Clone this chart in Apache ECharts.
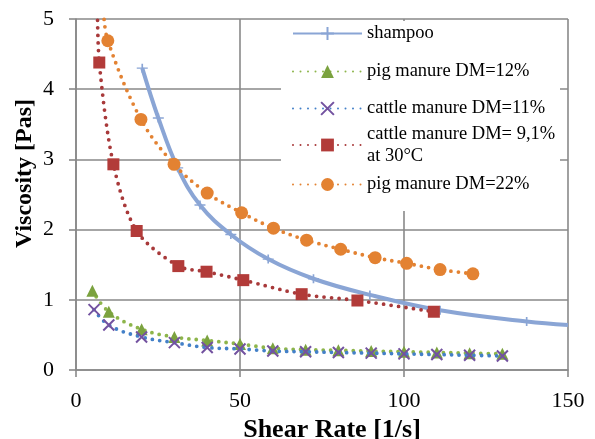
<!DOCTYPE html>
<html>
<head>
<meta charset="utf-8">
<script src="https://cdn.jsdelivr.net/npm/echarts@6/dist/echarts.min.js"></script>
<style>
  html, body { margin: 0; padding: 0; background: #fff; }
  #chart { width: 595px; height: 439px; }
</style>
</head>
<body>
<div id="chart"></div>
<script>
'use strict';

// values
var xTicks = [0, 50, 100, 150];
var yTicks = [0, 1, 2, 3, 4, 5];

var shampooX = [20.2, 25.1, 31, 37.8, 47.2, 58.6, 72.4, 89.6, 111, 137.4];
var shampooY = [4.30, 3.59, 2.88, 2.35, 1.93, 1.58, 1.30, 1.07, 0.85, 0.69];
var shampooEnd = [150, 0.64];

var pig12X = [5, 10, 20, 30, 40, 50, 60, 70, 80, 90, 100, 110, 120, 130];
var pig12Y = [1.13, 0.83, 0.58, 0.47, 0.42, 0.37, 0.31, 0.29, 0.28, 0.27, 0.26, 0.25, 0.24, 0.23];

var cattle11X = [5.5, 10, 20, 30, 40, 50, 60, 70, 80, 90, 100, 110, 120, 130];
var cattle11Y = [0.86, 0.64, 0.47, 0.39, 0.32, 0.30, 0.27, 0.26, 0.25, 0.24, 0.23, 0.22, 0.21, 0.20];

var cattle9X = [7.1, 11.4, 18.5, 31.2, 39.8, 51, 68.8, 85.8, 109.1];
var cattle9Y = [4.38, 2.93, 1.98, 1.48, 1.40, 1.28, 1.08, 0.99, 0.83];
var cattle9Top = [6.5, 5.3];

var pig22X = [9.7, 19.8, 29.9, 40, 50.5, 60.2, 70.3, 80.7, 91.2, 100.8, 111, 121];
var pig22Y = [4.69, 3.57, 2.93, 2.52, 2.24, 2.02, 1.85, 1.72, 1.60, 1.52, 1.43, 1.37];
var pig22Top = [8.4, 5.1];

var names = ['shampoo', 'pig manure DM=12%', 'cattle manure DM=11%',
             'cattle manure DM= 9,1% at 30°C', 'pig manure DM=22%'];

function pairs(xs, ys) {
    return xs.map(function (x, i) { return [x, ys[i]]; });
}
function bare(p) {
    return { value: p, symbol: 'none' };
}

var serif = '"Liberation Serif", "Times New Roman", serif';
var grid = '#898989';
var dots = [0, 7.5];

function dotted(color) {
    return { color: color, width: 3.8, type: dots, cap: 'round' };
}

var rows = [32, 70, 107, 145, 183];
var legends = names.map(function (n, i) {
    var lg = {
        data: [n],
        left: 292,
        top: rows[i] - 8,
        padding: 0,
        itemWidth: 69,
        itemHeight: 16,
        selectedMode: false,
        textStyle: { fontFamily: serif, fontSize: 18.5, color: '#000', lineHeight: 16 }
    };
    if (i === 3) {
        lg.top = rows[i] - 33;
        lg.formatter = function (s) { return s.replace(' at 30', '\nat 30'); };
        lg.textStyle = { fontFamily: serif, fontSize: 18.5, color: '#000', lineHeight: 22, padding: [22, 0, 0, 0] };
    }
    return lg;
});

var chart = echarts.init(document.getElementById('chart'));
chart.setOption({
    animation: false,
    backgroundColor: '#fff',
    grid: { left: 76, right: 27, top: 19, bottom: 69, containLabel: false, outerBoundsMode: 'none' },
    graphic: [{
        type: 'rect', z: 1,
        shape: { x: 281, y: 21, width: 279, height: 190 },
        style: { fill: '#fff' }
    }],
    legend: legends,
    xAxis: {
        type: 'value', min: xTicks[0], max: xTicks[xTicks.length - 1], interval: 50,
        name: 'Shear Rate [1/s]', nameLocation: 'middle', nameGap: 46,
        nameTextStyle: { fontFamily: serif, fontSize: 26, fontWeight: 'bold', color: '#000', padding: [0, 0, 0, 20] },
        axisLine: { show: true, lineStyle: { color: grid, width: 1.6 } },
        axisTick: { show: true, length: 7, lineStyle: { color: grid, width: 1.6 } },
        axisLabel: { fontFamily: serif, fontSize: 22, color: '#000', margin: 20 },
        splitLine: { show: true, lineStyle: { color: grid, width: 1.6 } }
    },
    yAxis: {
        type: 'value', min: yTicks[0], max: yTicks[yTicks.length - 1], interval: 1,
        name: 'Viscosity [Pas]', nameLocation: 'middle', nameGap: 39, nameMoveOverlap: false,
        nameTextStyle: { fontFamily: serif, fontSize: 24, fontWeight: 'bold', color: '#000', padding: [0, 0, 0, 42] },
        axisLine: { show: true, lineStyle: { color: grid, width: 1.6 } },
        axisTick: { show: true, length: 7, lineStyle: { color: grid, width: 1.6 } },
        axisLabel: { fontFamily: serif, fontSize: 22, color: '#000', margin: 22 },
        splitLine: { show: true, lineStyle: { color: grid, width: 1.6 } }
    },
    series: [{
        name: names[0], type: 'line', smooth: 0.4, z: 2,
        data: pairs(shampooX, shampooY).concat([bare(shampooEnd)]),
        symbol: 'path://M0,5 L10,5 M5,0 L5,10', symbolSize: [11, 9],
        lineStyle: { color: '#8AA5D5', width: 4 },
        itemStyle: { color: '#8AA5D5', borderColor: '#8AA5D5', borderWidth: 1.5 }
    }, {
        name: names[1], type: 'line', smooth: 0.4, z: 3,
        data: pairs(pig12X, pig12Y),
        symbol: 'triangle', symbolSize: [12, 12],
        lineStyle: dotted('#8DB54B'),
        itemStyle: { color: '#7BA23F' }
    }, {
        name: names[2], type: 'line', smooth: 0.4, z: 4,
        data: pairs(cattle11X, cattle11Y),
        symbol: 'path://M0,0 L10,10 M10,0 L0,10', symbolSize: 11,
        lineStyle: dotted('#4380C8'),
        itemStyle: { color: '#7352A0', borderColor: '#7352A0', borderWidth: 2 }
    }, {
        name: names[3], type: 'line', smooth: 0.3, z: 5,
        data: [bare(cattle9Top)].concat(pairs(cattle9X, cattle9Y)),
        symbol: 'rect', symbolSize: 12,
        lineStyle: dotted('#A8393A'),
        itemStyle: { color: '#B23B39' }
    }, {
        name: names[4], type: 'line', smooth: 0.35, z: 6,
        data: [bare(pig22Top)].concat(pairs(pig22X, pig22Y)),
        symbol: 'circle', symbolSize: 13,
        lineStyle: dotted('#E38232'),
        itemStyle: { color: '#E38232' }
    }]
});
</script>
</body>
</html>
